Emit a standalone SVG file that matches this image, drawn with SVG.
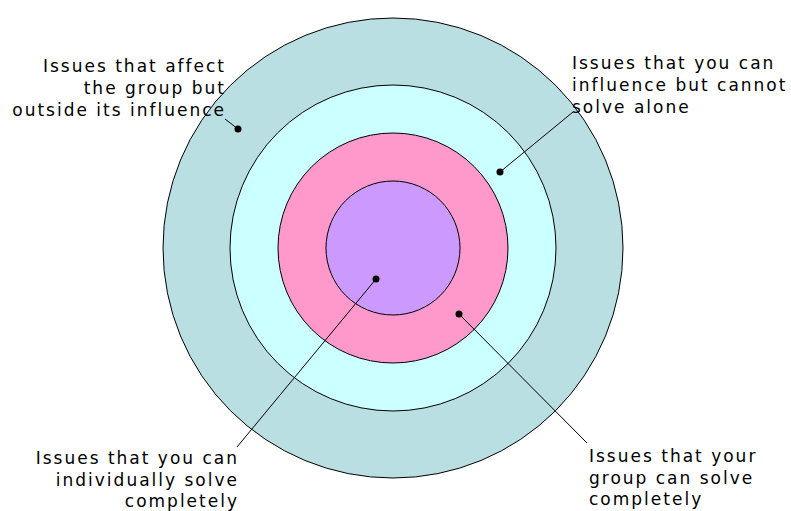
<svg xmlns="http://www.w3.org/2000/svg" width="791" height="511" viewBox="0 0 791 511">
<style>
.ring{stroke:#000;stroke-width:1}
.lbl{font-family:"DejaVu Sans",Verdana,sans-serif;font-size:17px;letter-spacing:2px;fill:#000}
.end{text-anchor:end}
.ld{stroke:#000;stroke-width:1;fill:none}
.dot{fill:#000}
</style>
<rect width="791" height="511" fill="#fff"/>
<g id="ring-outer"><circle class="ring" cx="393" cy="248" r="230" fill="#B9DFE2"/></g>
<g id="ring-influence"><circle class="ring" cx="393" cy="248" r="163" fill="#CCFFFF"/></g>
<g id="ring-group"><circle class="ring" cx="393" cy="248" r="115" fill="#FF99CC"/></g>
<g id="ring-individual"><circle class="ring" cx="393" cy="248" r="67" fill="#CC99FF"/></g>
<g id="connectors">
<line class="ld" x1="225" y1="119" x2="238" y2="129"/>
<circle class="dot" cx="238" cy="129" r="3.5"/>
<line class="ld" x1="573" y1="112" x2="500" y2="172"/>
<circle class="dot" cx="500" cy="172" r="3.5"/>
<line class="ld" x1="237" y1="447" x2="376" y2="279"/>
<circle class="dot" cx="376" cy="279" r="3.5"/>
<line class="ld" x1="587" y1="443" x2="459" y2="314"/>
<circle class="dot" cx="459" cy="314" r="3.5"/>
</g>
<g id="label-outside">
<text class="lbl end" x="226" y="72">Issues that affect</text>
<text class="lbl end" x="226" y="94">the group but</text>
<text class="lbl end" x="226" y="116">outside its influence</text>
</g>
<g id="label-influence">
<text class="lbl" x="572" y="69">Issues that you can</text>
<text class="lbl" x="572" y="91">influence but cannot</text>
<text class="lbl" x="572" y="113">solve alone</text>
</g>
<g id="label-individual">
<text class="lbl end" x="239" y="464">Issues that you can</text>
<text class="lbl end" x="239" y="486">individually solve</text>
<text class="lbl end" x="239" y="507">completely</text>
</g>
<g id="label-group">
<text class="lbl" x="589" y="462">Issues that your</text>
<text class="lbl" x="589" y="484">group can solve</text>
<text class="lbl" x="589" y="505">completely</text>
</g>
</svg>
